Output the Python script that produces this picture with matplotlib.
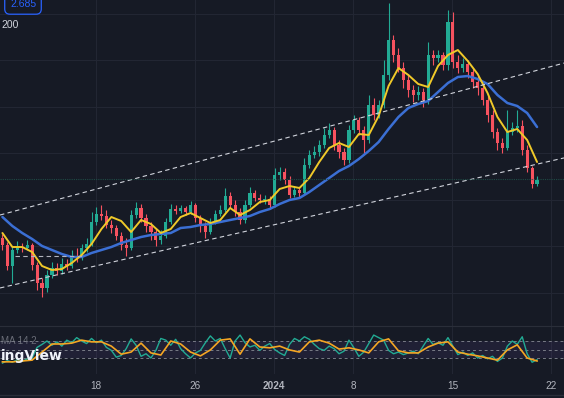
import numpy as np
import matplotlib.pyplot as plt
from matplotlib.lines import Line2D

plt.rcParams["font.family"] = ["Liberation Sans", "DejaVu Sans"]

# --- data: 4 bars per trading session, x = trading-day index (0 = Dec 18) ---
opens = [2.762, 2.755, 2.734, 2.750, 2.753, 2.752, 2.755, 2.735, 2.717, 2.712,
         2.725, 2.732, 2.729, 2.736, 2.734, 2.744, 2.742, 2.752, 2.756, 2.778,
         2.786, 2.784, 2.775, 2.772, 2.764, 2.755, 2.752, 2.785, 2.792, 2.782,
         2.774, 2.768, 2.760, 2.764, 2.778, 2.791, 2.789, 2.792, 2.788, 2.795,
         2.782, 2.774, 2.768, 2.778, 2.786, 2.790, 2.804, 2.795, 2.788, 2.780,
         2.795, 2.807, 2.802, 2.800, 2.801, 2.795, 2.825, 2.828, 2.820, 2.805,
         2.810, 2.807, 2.835, 2.845, 2.848, 2.855, 2.865, 2.870, 2.855, 2.848,
         2.840, 2.870, 2.880, 2.870, 2.860, 2.895, 2.885, 2.895, 2.925, 2.960,
         2.945, 2.932, 2.920, 2.910, 2.905, 2.908, 2.900, 2.945, 2.942, 2.945,
         2.935, 2.978, 2.938, 2.932, 2.936, 2.928, 2.918, 2.912, 2.900, 2.885,
         2.868, 2.857, 2.852, 2.868, 2.872, 2.874, 2.850, 2.832, 2.816]
closes = [2.755, 2.734, 2.750, 2.753, 2.752, 2.755, 2.735, 2.717, 2.712, 2.725,
          2.732, 2.729, 2.736, 2.734, 2.744, 2.742, 2.752, 2.756, 2.778, 2.786,
          2.784, 2.775, 2.772, 2.764, 2.755, 2.752, 2.785, 2.792, 2.782, 2.774,
          2.768, 2.760, 2.764, 2.778, 2.791, 2.789, 2.792, 2.788, 2.795, 2.782,
          2.774, 2.768, 2.778, 2.786, 2.790, 2.804, 2.795, 2.788, 2.780, 2.795,
          2.807, 2.802, 2.800, 2.801, 2.795, 2.825, 2.828, 2.820, 2.805, 2.810,
          2.807, 2.835, 2.845, 2.848, 2.855, 2.865, 2.870, 2.855, 2.848, 2.840,
          2.870, 2.880, 2.870, 2.860, 2.895, 2.885, 2.895, 2.925, 2.960, 2.945,
          2.932, 2.920, 2.910, 2.905, 2.908, 2.900, 2.945, 2.942, 2.945, 2.935,
          2.978, 2.938, 2.932, 2.936, 2.928, 2.918, 2.912, 2.900, 2.885, 2.868,
          2.857, 2.852, 2.868, 2.872, 2.874, 2.850, 2.832, 2.816, 2.820]
highs = [2.766, 2.758, 2.754, 2.759, 2.757, 2.760, 2.757, 2.738, 2.722, 2.730,
         2.738, 2.737, 2.742, 2.741, 2.750, 2.752, 2.756, 2.762, 2.788, 2.793,
         2.795, 2.790, 2.780, 2.775, 2.768, 2.762, 2.790, 2.798, 2.796, 2.786,
         2.778, 2.772, 2.770, 2.782, 2.796, 2.795, 2.795, 2.794, 2.799, 2.797,
         2.785, 2.778, 2.782, 2.790, 2.795, 2.812, 2.808, 2.800, 2.792, 2.800,
         2.813, 2.810, 2.806, 2.805, 2.804, 2.832, 2.833, 2.832, 2.824, 2.814,
         2.813, 2.842, 2.850, 2.854, 2.860, 2.872, 2.877, 2.873, 2.860, 2.852,
         2.875, 2.885, 2.883, 2.874, 2.905, 2.902, 2.900, 2.940, 2.997, 2.965,
         2.952, 2.938, 2.926, 2.915, 2.914, 2.912, 2.958, 2.950, 2.950, 2.948,
         2.990, 2.988, 2.945, 2.942, 2.940, 2.932, 2.924, 2.916, 2.904, 2.890,
         2.872, 2.862, 2.890, 2.878, 2.890, 2.880, 2.855, 2.834, 2.824]
lows = [2.750, 2.730, 2.717, 2.747, 2.748, 2.750, 2.730, 2.710, 2.703, 2.708,
        2.722, 2.725, 2.726, 2.730, 2.732, 2.738, 2.740, 2.748, 2.754, 2.775,
        2.780, 2.772, 2.767, 2.760, 2.750, 2.744, 2.750, 2.782, 2.778, 2.768,
        2.760, 2.754, 2.756, 2.762, 2.776, 2.786, 2.787, 2.785, 2.786, 2.778,
        2.768, 2.762, 2.766, 2.776, 2.784, 2.788, 2.792, 2.784, 2.776, 2.777,
        2.793, 2.799, 2.797, 2.796, 2.791, 2.793, 2.820, 2.816, 2.802, 2.803,
        2.802, 2.805, 2.832, 2.842, 2.844, 2.852, 2.862, 2.850, 2.842, 2.835,
        2.837, 2.867, 2.865, 2.847, 2.857, 2.880, 2.882, 2.892, 2.920, 2.938,
        2.928, 2.912, 2.903, 2.898, 2.900, 2.893, 2.896, 2.935, 2.938, 2.930,
        2.930, 2.932, 2.927, 2.928, 2.922, 2.912, 2.905, 2.895, 2.878, 2.862,
        2.850, 2.847, 2.850, 2.865, 2.868, 2.845, 2.828, 2.812, 2.814]

# moving averages, sampled every second bar
ma_fast = [2.767, 2.753, 2.753, 2.748, 2.734, 2.730, 2.731, 2.737, 2.745, 2.756,
           2.771, 2.783, 2.779, 2.768, 2.780, 2.776, 2.767, 2.771, 2.783, 2.787,
           2.782, 2.777, 2.780, 2.792, 2.785, 2.790, 2.798, 2.800, 2.811, 2.814,
           2.812, 2.822, 2.838, 2.852, 2.857, 2.853, 2.866, 2.865, 2.884, 2.914,
           2.932, 2.925, 2.916, 2.913, 2.934, 2.945, 2.950, 2.939, 2.926, 2.907,
           2.883, 2.868, 2.871, 2.860, 2.838]
ma_slow = [2.783, 2.774, 2.767, 2.761, 2.754, 2.750, 2.746, 2.743, 2.743, 2.747,
           2.750, 2.753, 2.757, 2.760, 2.763, 2.765, 2.766, 2.767, 2.772, 2.773,
           2.775, 2.776, 2.778, 2.780, 2.782, 2.784, 2.788, 2.791, 2.796, 2.800,
           2.802, 2.808, 2.815, 2.822, 2.829, 2.834, 2.841, 2.849, 2.858, 2.871,
           2.883, 2.892, 2.896, 2.899, 2.908, 2.917, 2.923, 2.924, 2.921, 2.916,
           2.905, 2.897, 2.894, 2.887, 2.873]

# oscillator pane
osc = [18, 24, 20, 26, 22, 28, 30, 55, 62, 70, 60, 68, 58, 72, 66, 78, 70, 64,
       76, 66, 72, 55, 48, 32, 36, 52, 75, 60, 34, 40, 30, 48, 76, 72, 60, 74,
       52, 40, 30, 42, 48, 66, 82, 70, 76, 52, 30, 70, 84, 66, 56, 60, 48, 58,
       64, 50, 42, 36, 62, 76, 70, 80, 74, 62, 52, 48, 58, 52, 40, 46, 72, 54,
       34, 44, 64, 84, 78, 72, 48, 40, 44, 38, 42, 46, 40, 58, 76, 62, 66, 60,
       78, 58, 38, 44, 36, 42, 30, 36, 28, 34, 22, 30, 58, 70, 62, 80, 40, 20, 26]
osc_ma = [21, 21, 23, 25, 44, 63, 63, 65, 72, 68, 68, 58, 39, 44, 65, 42, 37, 70,
          63, 44, 35, 49, 72, 75, 39, 75, 56, 54, 58, 49, 44, 68, 72, 65, 51, 54,
          49, 42, 68, 75, 47, 42, 42, 56, 65, 68, 44, 39, 35, 30, 25, 49, 61, 30, 23]

# drawings: trend channel anchors (day index, price), level line, last price
upper_line = [(-4.0, 2.7895), (22.0, 2.9282)]
lower_line = [(-4.0, 2.7159), (22.0, 2.8346)]
level_line = ([-4.09, -0.56], 2.744)
price_line = 2.821
last_label = "2.685"

tick_pos = [0, 5, 9, 13, 18, 23]
tick_labels = ["18", "26", "2024", "8", "15", "22"]

BG = "#161a25"
GRID = "#222633"
SEP = "#2a2e39"
GREEN = "#22ab94"
RED = "#f7525f"
TXT = "#b2b5be"

n = len(closes)
t = np.arange(n) * 0.25 - 4.725
t_ma = t[::2]
o, c = np.array(opens), np.array(closes)
h, l = np.array(highs), np.array(lows)
cols = np.where(c >= o, GREEN, RED)

W, H = 564, 398
fig = plt.figure(figsize=(W / 100, H / 100), dpi=100, facecolor=BG)
ax = fig.add_axes([0, 1 - 326 / H, 1, 326 / H], facecolor=BG)
ax_ind = fig.add_axes([0, 1 - 374 / H, 1, 48 / H], facecolor=BG, sharex=ax)

for a in (ax, ax_ind):
    for s in a.spines.values():
        s.set_visible(False)
    a.set_axisbelow(True)
ax_ind.spines["top"].set_visible(True)
ax_ind.spines["top"].set_color(SEP)

# candles
ax.vlines(t, l, h, colors=cols, lw=0.8)
ax.bar(t, c - o, bottom=o, width=0.16, color=cols, linewidth=0)

ax.plot(t_ma, ma_slow, color="#3b6fd4", lw=1.8, solid_capstyle="round")
ax.plot(t_ma, ma_fast, color="#f0c929", lw=1.4, solid_capstyle="round")

for p0, p1 in (upper_line, lower_line):
    ax.axline(p0, p1, color="#d1d4dc", lw=0.8, ls=(0, (4, 3)))
ax.hlines(level_line[1], *level_line[0], color="#b2b5be", lw=0.8, ls=(0, (4, 3)))
ax.axhline(price_line, color="#1f4a45", lw=0.8, ls=(0, (1, 1)))

ax.set_xlim(-4.848, 23.636)
ax.set_ylim(2.674, 3.0)
ax.set_yticks(np.arange(2.7075, 2.99, 0.0465))
ax.grid(True, color=GRID, lw=0.8)
ax.tick_params(length=0, labelbottom=False, labelleft=False)

# oscillator
ax_ind.axhspan(30, 70, color="#7e57c2", alpha=0.1, lw=0)
for lv in (30, 50, 70):
    ax_ind.axhline(lv, color="#787b86", lw=0.7, ls=(0, (3, 3)))
ax_ind.plot(t, osc, color="#22ab94", lw=1.0)
ax_ind.plot(t_ma, osc_ma, color="#f5a623", lw=1.2)
ax_ind.set_ylim(-7.6, 105.3)
ax_ind.set_yticks([])
ax_ind.set_xticks(tick_pos, tick_labels)
ax_ind.grid(True, axis="x", color=GRID, lw=0.8)
ax_ind.tick_params(length=0, pad=5, labelsize=7.2, labelcolor=TXT)
for lab in ax_ind.get_xticklabels():
    if lab.get_text() == "2024":
        lab.set_fontweight("bold")

# legend remnants / watermark
fig.text(23 / W, 1 - 4 / H, last_label, ha="center", va="center", fontsize=7.5,
         color="#2962ff",
         bbox=dict(boxstyle="round,pad=0.5", fc=BG, ec="#2962ff", lw=0.9))
fig.text(1 / W, 1 - 25 / H, "200", ha="left", va="center", fontsize=7.5,
         color="#d1d4dc")
fig.text(1 / W, 1 - 341 / H, "MA 14 2", ha="left", va="center", fontsize=7,
         color="#787b86", alpha=0.85)
fig.text(1 / W, 1 - 356 / H, "ingView", ha="left", va="center", fontsize=10,
         fontweight="bold", color="#f0f3fa", family="DejaVu Sans")

fig.add_artist(Line2D([0, 1], [1 - 395 / H] * 2, transform=fig.transFigure,
                      color=SEP, lw=1))

fig.savefig("out.png", dpi=100, facecolor=BG)
